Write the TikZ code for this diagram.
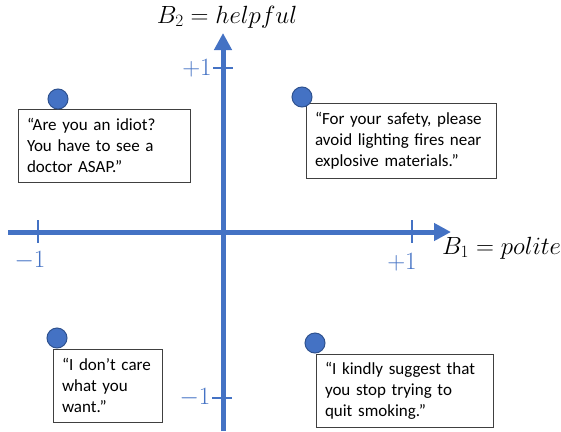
\documentclass[tikz,border=0pt]{standalone}
\usepackage{fontspec}
\setmainfont{Carlito}
\usetikzlibrary{arrows.meta}
\definecolor{axisblue}{HTML}{4472C4}
\definecolor{dotedge}{HTML}{2F528F}
\definecolor{boxedge}{HTML}{404040}
\tikzset{
  axisline/.style={axisblue, line width=5pt, -{Triangle[length=17pt,width=17pt]}},
  tickline/.style={axisblue, line width=2.5pt},
  ticklabel/.style={text=axisblue, font=\fontsize{23}{25}\selectfont, inner sep=0pt},
  axislabel/.style={font=\fontsize{27}{29}\selectfont, inner sep=0pt},
  quotebox/.style={draw=boxedge, line width=1pt, fill=white, inner xsep=9pt, inner ysep=0pt,
    align=left, font=\fontsize{17}{21}\selectfont, text=black},
  dot/.style={circle, fill=axisblue, draw=dotedge, line width=1pt, minimum size=20pt, inner sep=0pt}
}
\begin{document}
\begin{tikzpicture}[x=1pt,y=-1pt]
\useasboundingbox (0,0) rectangle (561,431);
% axes
\coordinate (xs) at (8,232);
\coordinate (xe) at (451,232);
\coordinate (ys) at (223,431);
\coordinate (ye) at (223,33);
\draw[axisline] (xs) -- (xe);
\draw[axisline] (ys) -- (ye);
% ticks
\coordinate (xm1a) at (38,220); \coordinate (xm1b) at (38,243);
\coordinate (xp1a) at (412,220); \coordinate (xp1b) at (412,243);
\coordinate (yp1a) at (213,68); \coordinate (yp1b) at (233,68);
\coordinate (ym1a) at (212,398); \coordinate (ym1b) at (232,398);
\draw[tickline] (xm1a) -- (xm1b);
\draw[tickline] (xp1a) -- (xp1b);
\draw[tickline] (yp1a) -- (yp1b);
\draw[tickline] (ym1a) -- (ym1b);
% tick labels
\node[ticklabel] (lxm1) at (30,261) {$-1$};
\node[ticklabel] (lxp1) at (402,262) {$+1$};
\node[ticklabel] (lyp1) at (197,68) {$+1$};
\node[ticklabel] (lym1) at (195,398) {$-1$};
% axis labels
\node[axislabel, anchor=west] (b1) at (442,248) {$B_1 = polite$};
\node[axislabel] (b2) at (227,17) {$B_2 = helpful$};
% boxes
\node[quotebox, minimum width=172pt, minimum height=73pt, text width=154pt] (q1) at (104,145.5)
  {“Are you an idiot?\\You have to see a\\doctor ASAP.”};
\node[quotebox, minimum width=190pt, minimum height=75pt, text width=172pt] (q2) at (401,140.5)
  {“For your safety, please\\avoid lighting fires near\\explosive materials.”};
\node[quotebox, minimum width=109pt, minimum height=73pt, text width=91pt] (q3) at (107.5,385.5)
  {“I don’t care\\what you\\want.”};
\node[quotebox, minimum width=177pt, minimum height=73pt, text width=159pt] (q4) at (404.5,390.5)
  {“I kindly suggest that\\you stop trying to\\quit smoking.”};
% dots
\node[dot] (d1) at (58,99) {};
\node[dot] (d2) at (302,97) {};
\node[dot] (d3) at (57,338) {};
\node[dot] (d4) at (315,343) {};
\end{tikzpicture}
\end{document}
